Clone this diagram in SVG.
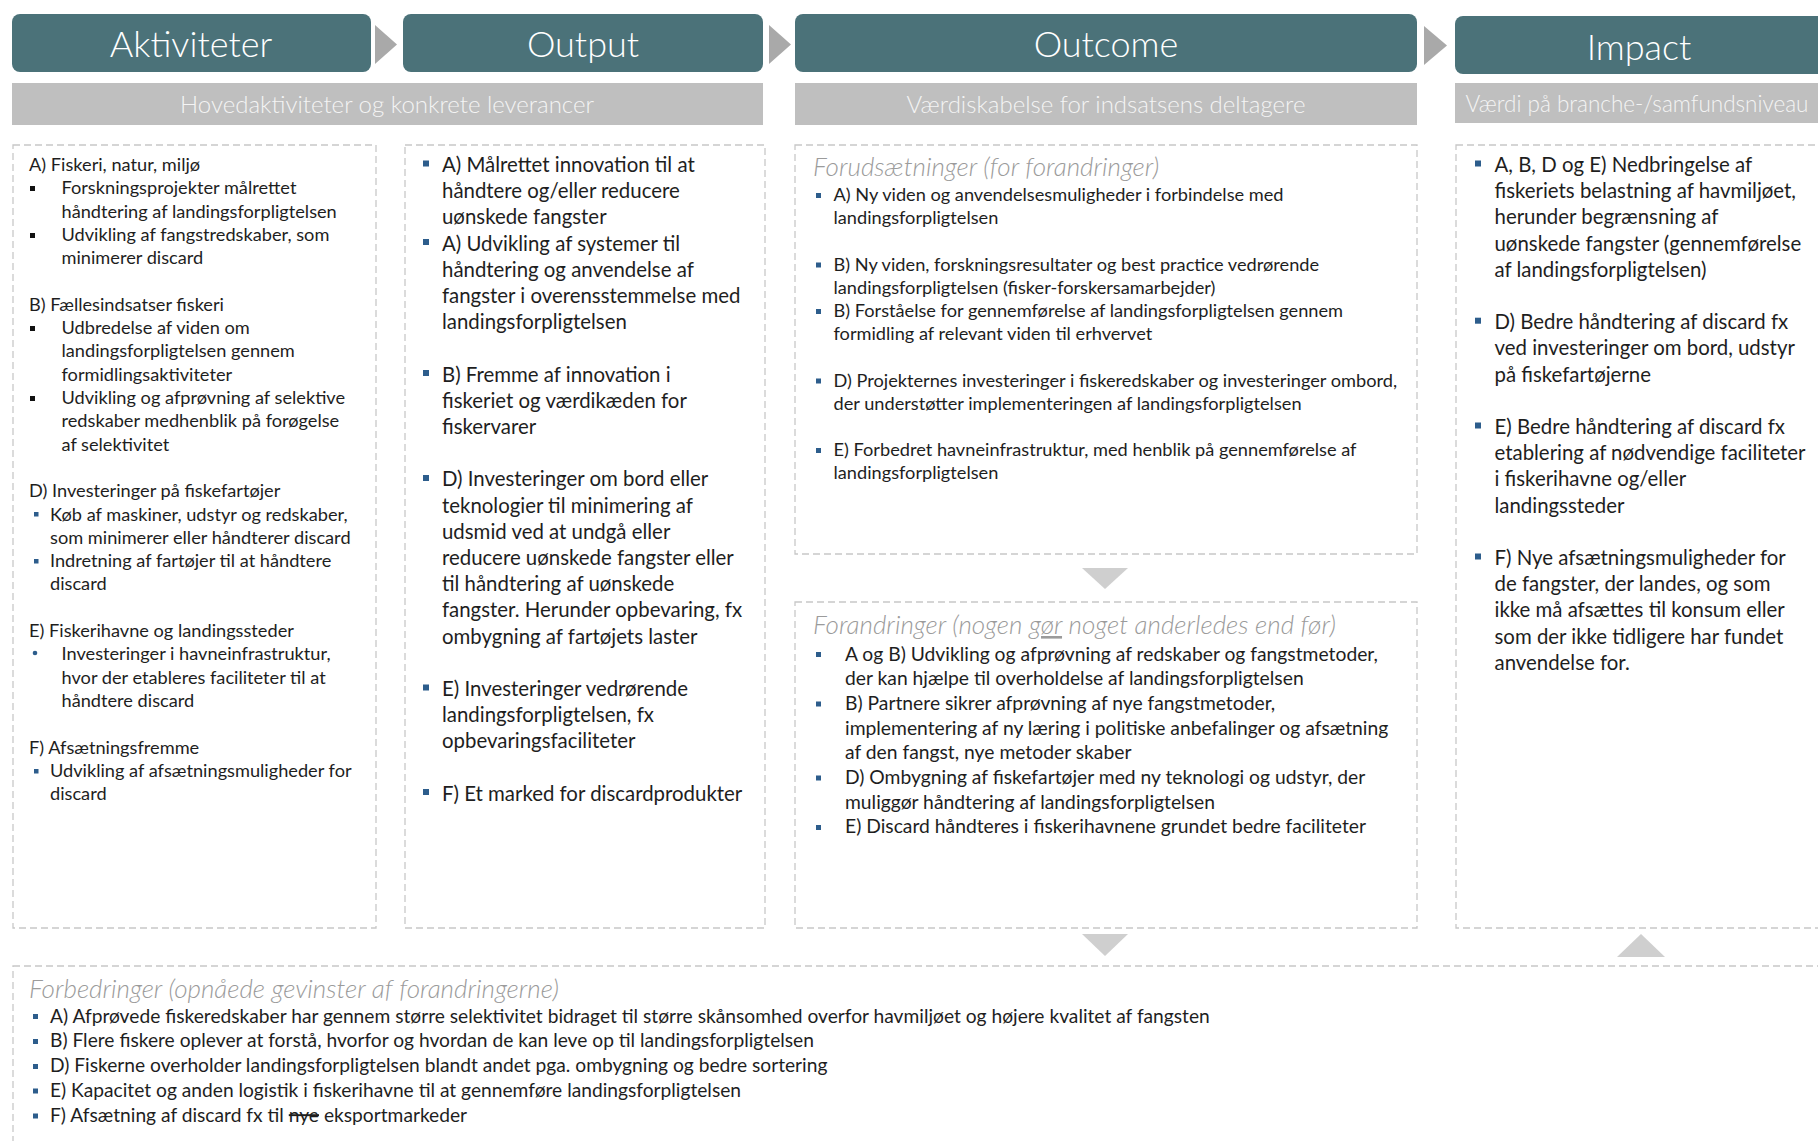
<svg xmlns="http://www.w3.org/2000/svg" width="1818" height="1141" viewBox="0 0 1818 1141">
<style>
.hdr{fill:#4b7279}
.hdrt{font-family:Lato,"Open Sans",sans-serif;font-weight:300;font-size:36px;fill:#ffffff;text-anchor:middle}
.bar{fill:#bfbfbf}
.bart{font-family:Lato,"Open Sans",sans-serif;font-weight:300;font-size:24px;fill:#f4f4f4;text-anchor:middle}
.bart2{font-family:Lato,"Open Sans",sans-serif;font-weight:300;font-size:22.5px;fill:#f4f4f4;text-anchor:middle}
.box{fill:none;stroke:#c8c8c8;stroke-width:1.3;stroke-dasharray:7 4}
.t{font-family:Lato,"Open Sans",sans-serif;fill:#1e1e1e}
.c1{font-size:18.2px}
.c2{font-size:20.4px}
.c3{font-size:19.3px}
.cb{font-size:19.2px}
.ttl{font-family:Lato,"Open Sans",sans-serif;font-style:italic;font-weight:300;font-size:26px;fill:#9b9b9b}
.bk{fill:#111111}
.bl{fill:#2d5d8c}
.arr{fill:#a9a9a9}
.tri{fill:#cfcfcf}
</style>

<g id="header-aktiviteter">
<rect class="hdr" x="12" y="14" width="359" height="58" rx="8"/>
<text class="hdrt" x="191" y="57">Aktiviteter</text>
</g>
<g id="header-output">
<rect class="hdr" x="403" y="14" width="360" height="58" rx="8"/>
<text class="hdrt" x="583" y="57">Output</text>
</g>
<g id="header-outcome">
<rect class="hdr" x="795" y="14" width="622" height="58" rx="8"/>
<text class="hdrt" x="1106" y="57">Outcome</text>
</g>
<g id="header-impact">
<rect class="hdr" x="1455" y="16" width="380" height="58" rx="8"/>
<text class="hdrt" x="1639" y="60">Impact</text>
</g>

<g id="bar-aktiviteter-output">
<rect class="bar" x="12" y="83" width="751" height="42"/>
<text class="bart" x="387" y="113">Hovedaktiviteter og konkrete leverancer</text>
</g>
<g id="bar-outcome">
<rect class="bar" x="795" y="83" width="622" height="42"/>
<text class="bart" x="1106" y="113">Værdiskabelse for indsatsens deltagere</text>
</g>
<g id="bar-impact">
<rect class="bar" x="1455" y="83" width="380" height="40"/>
<text class="bart2" x="1637" y="112">Værdi på branche-/samfundsniveau</text>
</g>

<g id="connectors">
<polygon class="arr" points="375,25 397,44.5 375,64"/>
<polygon class="arr" points="769,25 791,44.5 769,64"/>
<polygon class="arr" points="1424,26 1447,45.5 1424,65"/>
<polygon class="tri" points="1082,568 1128,568 1105,589"/>
<polygon class="tri" points="1082,934 1128,934 1105,956"/>
<polygon class="tri" points="1617,957 1665,957 1641,934"/>
</g>

<g id="aktiviteter">
<rect class="box" x="13" y="145" width="363" height="783"/>
<rect class="bk" x="30" y="186" width="5" height="5"/>
<rect class="bk" x="30" y="233" width="5" height="5"/>
<rect class="bk" x="30" y="326" width="5" height="5"/>
<rect class="bk" x="30" y="396" width="5" height="5"/>
<rect class="bl" x="34" y="512" width="4.5" height="4.5"/>
<rect class="bl" x="34" y="559" width="4.5" height="4.5"/>
<circle class="bl" cx="35" cy="653" r="2.3"/>
<rect class="bl" x="34" y="769" width="4.5" height="4.5"/>
<text class="t c1">
<tspan x="29" y="171">A) Fiskeri, natur, miljø</tspan>
<tspan x="61.5" y="194.3">Forskningsprojekter målrettet</tspan>
<tspan x="61.5" y="217.6">håndtering af landingsforpligtelsen</tspan>
<tspan x="61.5" y="240.9">Udvikling af fangstredskaber, som</tspan>
<tspan x="61.5" y="264.2">minimerer discard</tspan>
<tspan x="29" y="310.8">B) Fællesindsatser fiskeri</tspan>
<tspan x="61.5" y="334.1">Udbredelse af viden om</tspan>
<tspan x="61.5" y="357.4">landingsforpligtelsen gennem</tspan>
<tspan x="61.5" y="380.7">formidlingsaktiviteter</tspan>
<tspan x="61.5" y="404">Udvikling og afprøvning af selektive</tspan>
<tspan x="61.5" y="427.3">redskaber medhenblik på forøgelse</tspan>
<tspan x="61.5" y="450.6">af selektivitet</tspan>
<tspan x="29" y="497.2">D) Investeringer på fiskefartøjer</tspan>
<tspan x="50" y="520.5">Køb af maskiner, udstyr og redskaber,</tspan>
<tspan x="50" y="543.8">som minimerer eller håndterer discard</tspan>
<tspan x="50" y="567.1">Indretning af fartøjer til at håndtere</tspan>
<tspan x="50" y="590.4">discard</tspan>
<tspan x="29" y="637">E) Fiskerihavne og landingssteder</tspan>
<tspan x="61.5" y="660.3">Investeringer i havneinfrastruktur,</tspan>
<tspan x="61.5" y="683.6">hvor der etableres faciliteter til at</tspan>
<tspan x="61.5" y="706.9">håndtere discard</tspan>
<tspan x="29" y="753.5">F) Afsætningsfremme</tspan>
<tspan x="50" y="776.8">Udvikling af afsætningsmuligheder for</tspan>
<tspan x="50" y="800.1">discard</tspan>
</text>
</g>

<g id="output">
<rect class="box" x="405" y="145" width="360" height="783"/>
<rect class="bl" x="423" y="160.5" width="6" height="6"/>
<rect class="bl" x="423" y="239" width="6" height="6"/>
<rect class="bl" x="423" y="370" width="6" height="6"/>
<rect class="bl" x="423" y="475" width="6" height="6"/>
<rect class="bl" x="423" y="684.5" width="6" height="6"/>
<rect class="bl" x="423" y="789" width="6" height="6"/>
<text class="t c2">
<tspan x="442" y="172">A) Målrettet innovation til at</tspan>
<tspan x="442" y="198.2">håndtere og/eller reducere</tspan>
<tspan x="442" y="224.4">uønskede fangster</tspan>
<tspan x="442" y="250.6">A) Udvikling af systemer til</tspan>
<tspan x="442" y="276.8">håndtering og anvendelse af</tspan>
<tspan x="442" y="303">fangster i overensstemmelse med</tspan>
<tspan x="442" y="329.2">landingsforpligtelsen</tspan>
<tspan x="442" y="381.6">B) Fremme af innovation i</tspan>
<tspan x="442" y="407.8">fiskeriet og værdikæden for</tspan>
<tspan x="442" y="434">fiskervarer</tspan>
<tspan x="442" y="486.4">D) Investeringer om bord eller</tspan>
<tspan x="442" y="512.6">teknologier til minimering af</tspan>
<tspan x="442" y="538.8">udsmid ved at undgå eller</tspan>
<tspan x="442" y="565">reducere uønskede fangster eller</tspan>
<tspan x="442" y="591.2">til håndtering af uønskede</tspan>
<tspan x="442" y="617.4">fangster. Herunder opbevaring, fx</tspan>
<tspan x="442" y="643.6">ombygning af fartøjets laster</tspan>
<tspan x="442" y="696">E) Investeringer vedrørende</tspan>
<tspan x="442" y="722.2">landingsforpligtelsen, fx</tspan>
<tspan x="442" y="748.4">opbevaringsfaciliteter</tspan>
<tspan x="442" y="800.8">F) Et marked for discardprodukter</tspan>
</text>
</g>

<g id="forudsaetninger">
<rect class="box" x="795" y="145" width="622" height="409"/>
<text class="ttl" x="813" y="176">Forudsætninger (for forandringer)</text>
<rect class="bl" x="816" y="193" width="5" height="5"/>
<rect class="bl" x="816" y="262.5" width="5" height="5"/>
<rect class="bl" x="816" y="309" width="5" height="5"/>
<rect class="bl" x="816" y="378.5" width="5" height="5"/>
<rect class="bl" x="816" y="448" width="5" height="5"/>
<text class="t c1">
<tspan x="833.5" y="201">A) Ny viden og anvendelsesmuligheder i forbindelse med</tspan>
<tspan x="833.5" y="224.2">landingsforpligtelsen</tspan>
<tspan x="833.5" y="270.6">B) Ny viden, forskningsresultater og best practice vedrørende</tspan>
<tspan x="833.5" y="293.8">landingsforpligtelsen (fisker-forskersamarbejder)</tspan>
<tspan x="833.5" y="317">B) Forståelse for gennemførelse af landingsforpligtelsen gennem</tspan>
<tspan x="833.5" y="340.2">formidling af relevant viden til erhvervet</tspan>
<tspan x="833.5" y="386.6">D) Projekternes investeringer i fiskeredskaber og investeringer ombord,</tspan>
<tspan x="833.5" y="409.8">der understøtter implementeringen af landingsforpligtelsen</tspan>
<tspan x="833.5" y="456.2">E) Forbedret havneinfrastruktur, med henblik på gennemførelse af</tspan>
<tspan x="833.5" y="479.4">landingsforpligtelsen</tspan>
</text>
</g>

<g id="forandringer">
<rect class="box" x="795" y="602" width="622" height="326"/>
<text class="ttl" x="813" y="634">Forandringer (nogen <tspan text-decoration="underline">gør</tspan> noget anderledes end før)</text>
<rect class="bl" x="816" y="652" width="5" height="5"/>
<rect class="bl" x="816" y="701.5" width="5" height="5"/>
<rect class="bl" x="816" y="775.5" width="5" height="5"/>
<rect class="bl" x="816" y="825" width="5" height="5"/>
<text class="t c3">
<tspan x="845" y="660.5">A og B) Udvikling og afprøvning af redskaber og fangstmetoder,</tspan>
<tspan x="845" y="685.2">der kan hjælpe til overholdelse af landingsforpligtelsen</tspan>
<tspan x="845" y="709.9">B) Partnere sikrer afprøvning af nye fangstmetoder,</tspan>
<tspan x="845" y="734.6">implementering af ny læring i politiske anbefalinger og afsætning</tspan>
<tspan x="845" y="759.3">af den fangst, nye metoder skaber</tspan>
<tspan x="845" y="784">D) Ombygning af fiskefartøjer med ny teknologi og udstyr, der</tspan>
<tspan x="845" y="808.7">muliggør håndtering af landingsforpligtelsen</tspan>
<tspan x="845" y="833.4">E) Discard håndteres i fiskerihavnene grundet bedre faciliteter</tspan>
</text>
</g>

<g id="impact">
<rect class="box" x="1456" y="145" width="380" height="783"/>
<rect class="bl" x="1475" y="160.5" width="6" height="6"/>
<rect class="bl" x="1475" y="317.7" width="6" height="6"/>
<rect class="bl" x="1475" y="422.5" width="6" height="6"/>
<rect class="bl" x="1475" y="553.5" width="6" height="6"/>
<text class="t c2">
<tspan x="1494.5" y="172">A, B, D og E) Nedbringelse af</tspan>
<tspan x="1494.5" y="198.2">fiskeriets belastning af havmiljøet,</tspan>
<tspan x="1494.5" y="224.4">herunder begrænsning af</tspan>
<tspan x="1494.5" y="250.6">uønskede fangster (gennemførelse</tspan>
<tspan x="1494.5" y="276.8">af landingsforpligtelsen)</tspan>
<tspan x="1494.5" y="329.2">D) Bedre håndtering af discard fx</tspan>
<tspan x="1494.5" y="355.4">ved investeringer om bord, udstyr</tspan>
<tspan x="1494.5" y="381.6">på fiskefartøjerne</tspan>
<tspan x="1494.5" y="434">E) Bedre håndtering af discard fx</tspan>
<tspan x="1494.5" y="460.2">etablering af nødvendige faciliteter</tspan>
<tspan x="1494.5" y="486.4">i fiskerihavne og/eller</tspan>
<tspan x="1494.5" y="512.6">landingssteder</tspan>
<tspan x="1494.5" y="565">F) Nye afsætningsmuligheder for</tspan>
<tspan x="1494.5" y="591.2">de fangster, der landes, og som</tspan>
<tspan x="1494.5" y="617.4">ikke må afsættes til konsum eller</tspan>
<tspan x="1494.5" y="643.6">som der ikke tidligere har fundet</tspan>
<tspan x="1494.5" y="669.8">anvendelse for.</tspan>
</text>
</g>

<g id="forbedringer">
<rect class="box" x="13" y="966" width="1830" height="200"/>
<text class="ttl" x="29" y="998">Forbedringer (opnåede gevinster af forandringerne)</text>
<rect class="bl" x="33" y="1014" width="5" height="5"/>
<rect class="bl" x="33" y="1039" width="5" height="5"/>
<rect class="bl" x="33" y="1064" width="5" height="5"/>
<rect class="bl" x="33" y="1088.5" width="5" height="5"/>
<rect class="bl" x="33" y="1113.5" width="5" height="5"/>
<text class="t cb">
<tspan x="50" y="1022.5">A) Afprøvede fiskeredskaber har gennem større selektivitet bidraget til større skånsomhed overfor havmiljøet og højere kvalitet af fangsten</tspan>
<tspan x="50" y="1047.3">B) Flere fiskere oplever at forstå, hvorfor og hvordan de kan leve op til landingsforpligtelsen</tspan>
<tspan x="50" y="1072">D) Fiskerne overholder landingsforpligtelsen blandt andet pga. ombygning og bedre sortering</tspan>
<tspan x="50" y="1096.8">E) Kapacitet og anden logistik i fiskerihavne til at gennemføre landingsforpligtelsen</tspan>
<tspan x="50" y="1121.5">F) Afsætning af discard fx til <tspan text-decoration="line-through">nye</tspan> eksportmarkeder</tspan>
</text>
</g>
</svg>
